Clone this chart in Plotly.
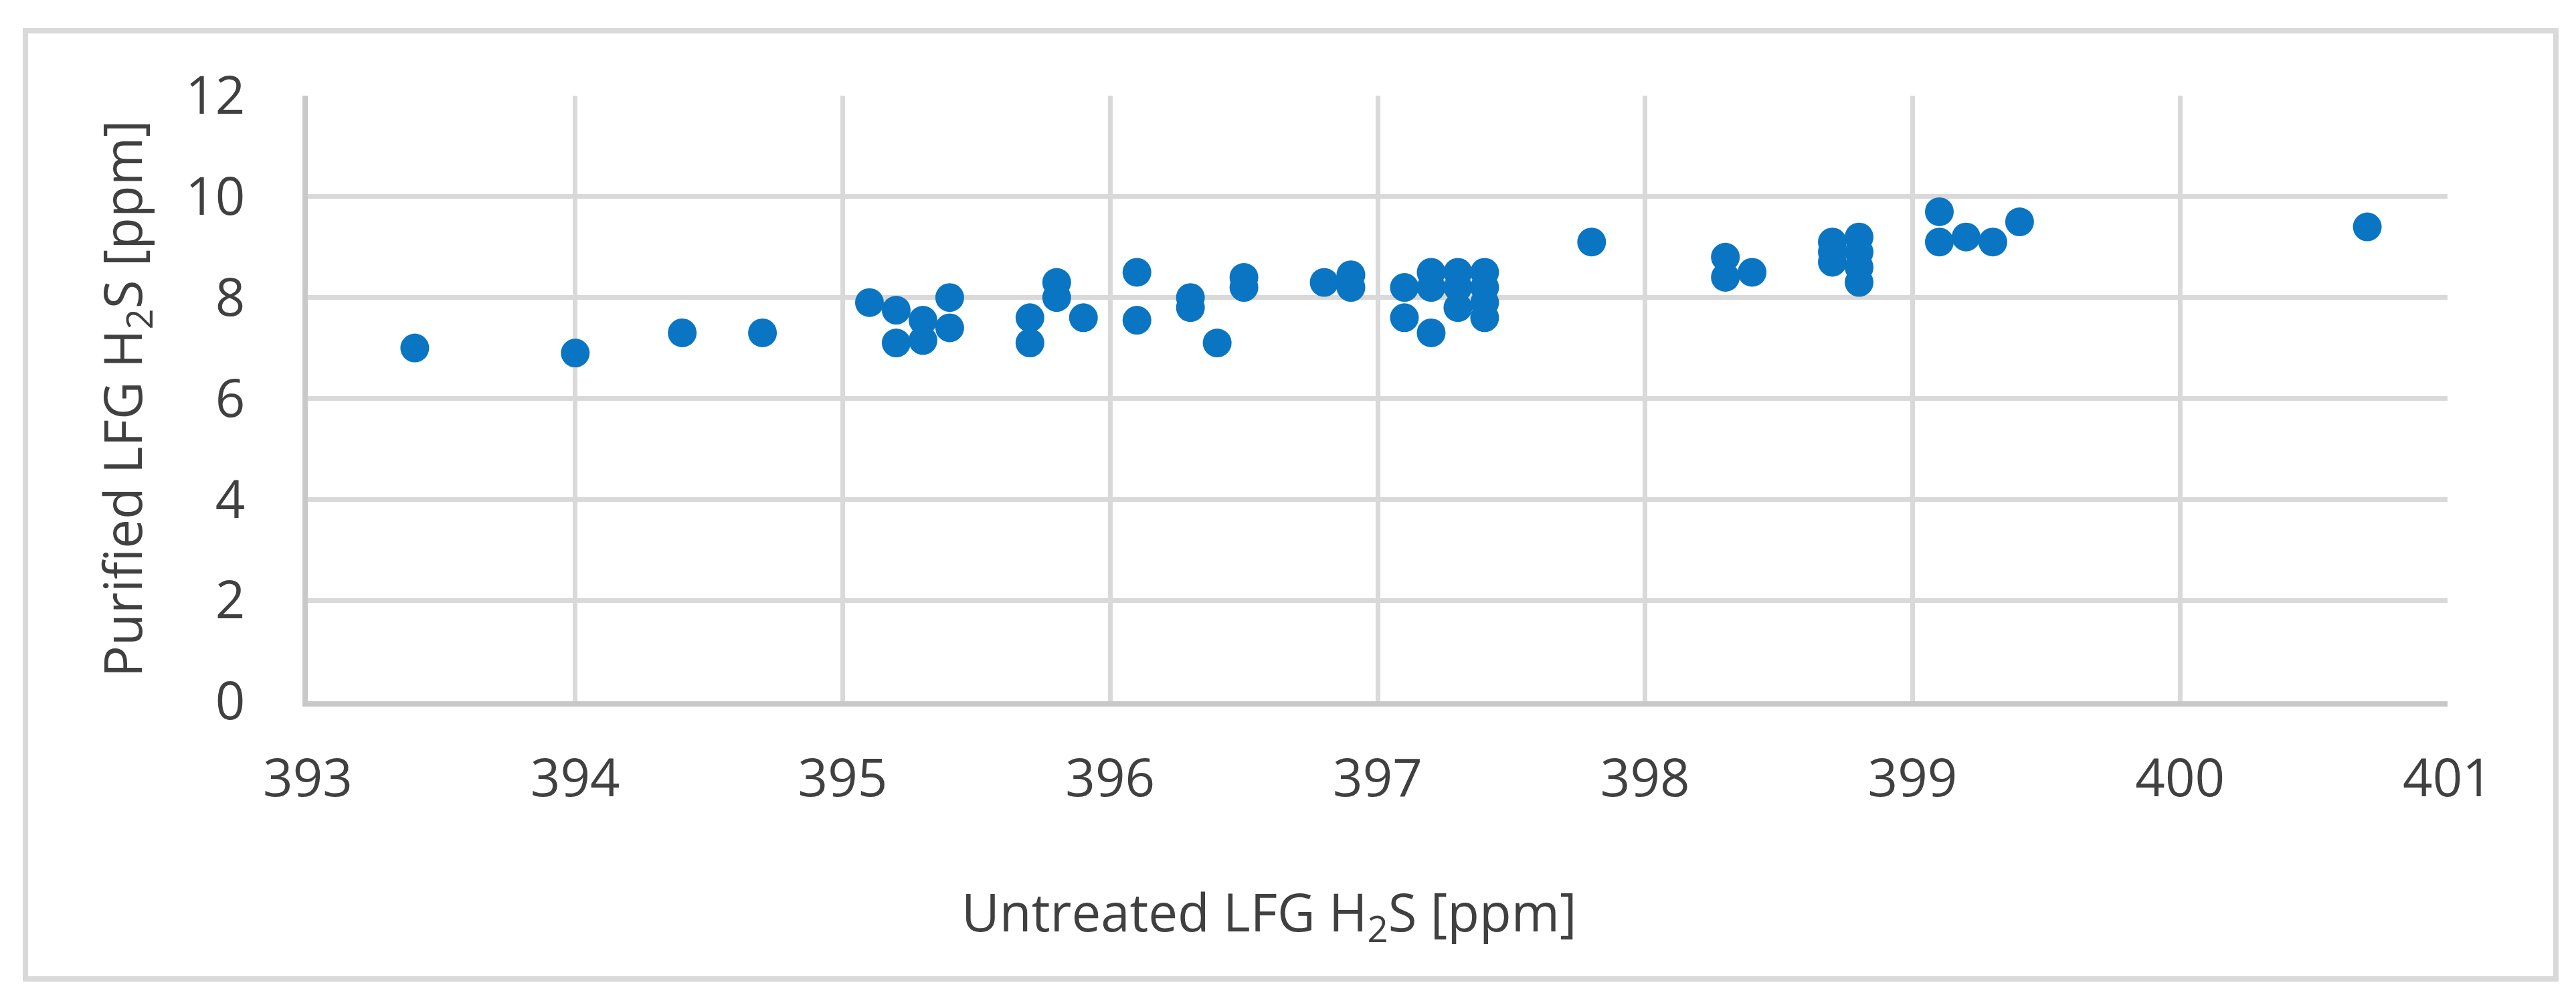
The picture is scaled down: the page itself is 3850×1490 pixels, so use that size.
import plotly.graph_objects as go

# ---- data ----
untreated_h2s = [
    393.4, 394.0, 394.4, 394.7,
    395.1, 395.2, 395.2, 395.3, 395.3, 395.4, 395.4,
    395.7, 395.7, 395.8, 395.8, 395.9,
    396.1, 396.1, 396.3, 396.3, 396.4, 396.5, 396.5,
    396.8, 396.9, 396.9,
    397.1, 397.1, 397.2, 397.2, 397.2, 397.3, 397.3, 397.3, 397.4, 397.4, 397.4, 397.4,
    397.8,
    398.3, 398.3, 398.4,
    398.7, 398.7, 398.7, 398.8, 398.8, 398.8, 398.8,
    399.1, 399.1, 399.2, 399.3, 399.4,
    400.7,
]
purified_h2s = [
    7.0, 6.9, 7.3, 7.3,
    7.9, 7.75, 7.1, 7.55, 7.15, 8.0, 7.4,
    7.6, 7.1, 8.3, 8.0, 7.6,
    8.5, 7.55, 8.0, 7.8, 7.1, 8.4, 8.2,
    8.3, 8.45, 8.2,
    8.2, 7.6, 8.5, 8.2, 7.3, 8.5, 8.2, 7.8, 8.5, 8.2, 7.9, 7.6,
    9.1,
    8.8, 8.4, 8.5,
    9.1, 8.9, 8.7, 9.2, 8.9, 8.6, 8.3,
    9.7, 9.1, 9.2, 9.1, 9.5,
    9.4,
]
x_ticks = [393, 394, 395, 396, 397, 398, 399, 400, 401]
y_ticks = [0, 2, 4, 6, 8, 10, 12]
x_title = "Untreated LFG H<sub>2</sub>S [ppm]"
y_title = "Purified LFG H<sub>2</sub>S [ppm]"

# ---- layout geometry (pixels) ----
W, H = 3850, 1490
L, R, T, B = 452, 3650, 135, 1040


def px(xp):
    return (xp - L) / (R - L)


def py(yp):
    return (B - yp) / (B - T)


FONT = "Open Sans, DejaVu Sans, sans-serif"
TXT = "#404040"

fig = go.Figure()
fig.add_trace(go.Scatter(
    x=untreated_h2s, y=purified_h2s, mode="markers",
    marker=dict(size=43, color="#0a75c2", line=dict(width=0)),
    showlegend=False,
))

fig.update_layout(
    width=W, height=H,
    margin=dict(l=L, r=W - R, t=T, b=H - B, pad=0),
    paper_bgcolor="white", plot_bgcolor="white",
    font=dict(family=FONT, size=78, color=TXT),
    xaxis=dict(
        range=[393, 401], tickvals=x_ticks, ticktext=[str(v) for v in x_ticks],
        showgrid=True, gridcolor="#d9d9d9", gridwidth=7,
        showline=True, linecolor="#c8c8c8", linewidth=8,
        zeroline=False, ticks="", ticklabelstandoff=40,
        tickfont=dict(family=FONT, size=78, color=TXT),
    ),
    yaxis=dict(
        range=[0, 12], tickvals=y_ticks, ticktext=[str(v) for v in y_ticks],
        showgrid=True, gridcolor="#d9d9d9", gridwidth=7,
        showline=True, linecolor="#c8c8c8", linewidth=8,
        zeroline=False, ticks="", ticklabelstandoff=70,
        tickfont=dict(family=FONT, size=78, color=TXT),
    ),
    annotations=[
        dict(text=x_title, xref="paper", yref="paper", x=px(1889), y=py(1358),
             xanchor="center", yanchor="middle", showarrow=False,
             font=dict(family=FONT, size=78, color=TXT)),
        dict(text=y_title, xref="paper", yref="paper", x=px(178), y=py(588),
             xanchor="center", yanchor="middle", showarrow=False, textangle=-90,
             font=dict(family=FONT, size=78, color=TXT)),
    ],
    shapes=[
        dict(type="rect", xref="paper", yref="paper",
             x0=px(30), x1=px(3812), y0=py(1455), y1=py(38),
             line=dict(color="#d9d9d9", width=8), fillcolor="rgba(0,0,0,0)",
             layer="below"),
    ],
)

fig.write_html("out.html")
